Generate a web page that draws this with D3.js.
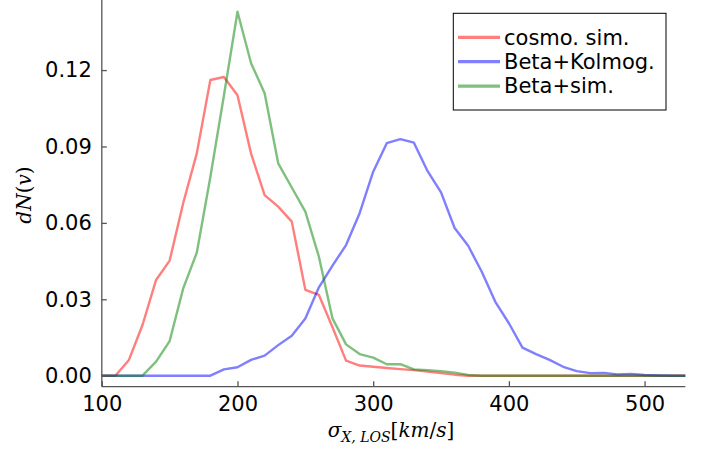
<!DOCTYPE html>
<html><head><meta charset="utf-8">
<script src="https://cdn.jsdelivr.net/npm/d3@7"></script>
<style>body{margin:0;background:#fff}svg{display:block}</style>
</head><body>
<svg id="chart" width="713" height="452"></svg>
<script>
const sigma = d3.range(100, 531, 10);
const cosmoSim = [0,0,0.0062,0.0199,0.0376,0.0452,0.0678,0.0873,0.1161,0.1173,0.1101,0.0872,0.0709,0.0664,0.0605,0.0337,0.0317,0.0190,0.0059,0.0040,0.0035,0.0030,0.0026,0.0022,0.0016,0.0010,0.0004,0,0,0,0,0,0,0,0,0,0,0,0,0,0,0,0,0];
const betaKolmog = [0,0,0,0,0,0,0,0,0,0.0025,0.0033,0.0062,0.0079,0.0120,0.0157,0.0225,0.0347,0.0432,0.0513,0.0638,0.0801,0.0913,0.0929,0.0915,0.0804,0.0720,0.0580,0.0510,0.0408,0.0290,0.0206,0.0110,0.0085,0.0062,0.0035,0.0018,0.0010,0.0011,0.0005,0.0007,0.0003,0.0001,0,0];
const betaSim = [0,0,0,0,0.0055,0.0136,0.0343,0.0483,0.0780,0.1100,0.1429,0.1227,0.1109,0.0834,0.0739,0.0644,0.0467,0.0225,0.0123,0.0085,0.0071,0.0045,0.0045,0.0025,0.0022,0.0018,0.0012,0.0003,0,0,0,0,0,0,0,0,0,0,0,0,0,0,0,0];
const seriesNames = ["cosmo. sim.", "Beta+Kolmog.", "Beta+sim."];
const seriesColors = ["red", "blue", "green"];
const xTicks = [100, 200, 300, 400, 500];
const yTicks = [0, 0.03, 0.06, 0.09, 0.12];

const svg = d3.select("#chart");
const L = 101.8, R = 685.3, B = 386.7, T = 0;
const x = d3.scaleLinear().domain([100, 530]).range([L, R]);
const y = d3.scaleLinear().domain([-0.00432, 0.14752]).range([B, T]);
const font = "'DejaVu Sans', sans-serif";

const all = [cosmoSim, betaKolmog, betaSim];
const line = d3.line().x((d, i) => x(sigma[i])).y(d => y(d));
const g = svg.append("g");
all.forEach((vals, k) => {
  g.append("path").datum(vals).attr("d", line)
    .attr("fill", "none").attr("stroke", seriesColors[k])
    .attr("stroke-opacity", 0.5).attr("stroke-width", 2.4)
    .attr("stroke-linejoin", "round");
});

// axes
const ax = svg.append("g").attr("transform", `translate(0,${B})`)
  .call(d3.axisBottom(x).tickValues(xTicks).tickSize(-5.5).tickPadding(12).tickFormat(d3.format("d")));
const ay = svg.append("g").attr("transform", `translate(${L},0)`)
  .call(d3.axisLeft(y).tickValues(yTicks).tickSize(-5).tickPadding(10).tickFormat(d3.format(".2f")));
[ax, ay].forEach(a => {
  a.select(".domain").attr("stroke", "#555").attr("stroke-width", 1.3);
  a.selectAll(".tick line").attr("stroke", "#555").attr("stroke-width", 1.3);
  a.selectAll(".tick text").attr("fill", "#000").style("font-family", font).style("font-size", "21px");
});
ax.select(".domain").attr("d", `M${L},0H${R}`);
ay.select(".domain").attr("d", `M0,${B}V${T}`);
ax.selectAll(".tick text").attr("dy", "0.71em").attr("y", 9);

// legend
const lg = svg.append("g");
lg.append("rect").attr("x", 453.3).attr("y", 13.3).attr("width", 212.7).attr("height", 96.7)
  .attr("fill", "#fff").attr("stroke", "#000").attr("stroke-width", 1);
seriesNames.forEach((n, k) => {
  const yy = 37.3 + k * 24.4;
  lg.append("line").attr("x1", 458).attr("x2", 500).attr("y1", yy).attr("y2", yy)
    .attr("stroke", seriesColors[k]).attr("stroke-opacity", 0.5).attr("stroke-width", 3.2);
  lg.append("text").attr("x", 504).attr("y", yy).attr("dy", "0.35em")
    .style("font-family", font).style("font-size", "21px").text(n);
});

// axis labels
const serif = "'DejaVu Serif', 'Liberation Serif', serif";
const yl = svg.append("text").attr("transform", "translate(31,195) rotate(-90)")
  .attr("text-anchor", "middle").style("font-family", serif).style("font-size", "20px");
yl.append("tspan").attr("font-style", "italic").text("dN");
yl.append("tspan").text("(");
yl.append("tspan").attr("font-style", "italic").text("v");
yl.append("tspan").text(")");

const xl = svg.append("text").attr("x", 391).attr("y", 437)
  .attr("text-anchor", "middle").style("font-family", serif).style("font-size", "20px");
xl.append("tspan").attr("font-style", "italic").text("σ");
xl.append("tspan").attr("font-style", "italic").attr("font-size", "14px").attr("dy", 5).text("X, LOS");
xl.append("tspan").attr("dy", -5).text("[");
xl.append("tspan").attr("font-style", "italic").text("km");
xl.append("tspan").text("/");
xl.append("tspan").attr("font-style", "italic").text("s");
xl.append("tspan").text("]");
</script>
</body></html>
